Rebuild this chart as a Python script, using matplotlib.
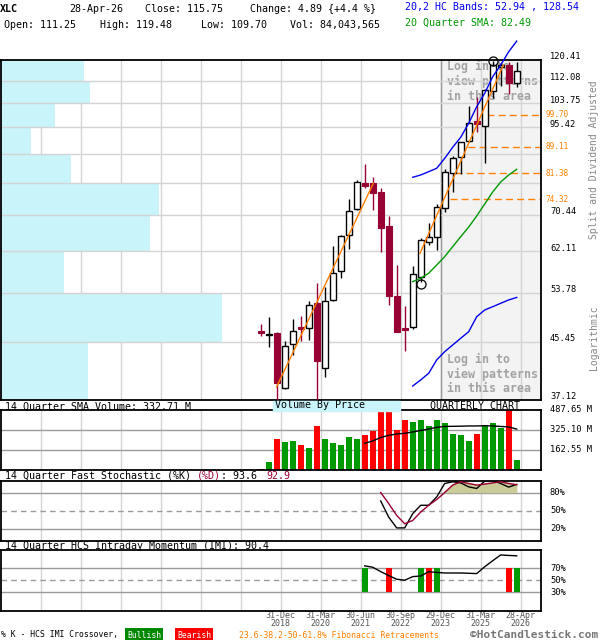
import numpy as np
import matplotlib
matplotlib.use('Agg')
import matplotlib.pyplot as plt
import matplotlib.transforms as mtransforms
from matplotlib.patches import Rectangle
from matplotlib.ticker import NullLocator

plt.rcParams['font.family'] = ['DejaVu Sans Mono', 'DejaVu Sans']

# ---------------- data ----------------
quarters = ['Q2-18', 'Q3-18', 'Q4-18', 'Q1-19', 'Q2-19', 'Q3-19', 'Q4-19',
            'Q1-20', 'Q2-20', 'Q3-20', 'Q4-20', 'Q1-21', 'Q2-21', 'Q3-21',
            'Q4-21', 'Q1-22', 'Q2-22', 'Q3-22', 'Q4-22', 'Q1-23', 'Q2-23',
            'Q3-23', 'Q4-23', 'Q1-24', 'Q2-24', 'Q3-24', 'Q4-24', 'Q1-25',
            'Q2-25', 'Q3-25', 'Q4-25', 'Q1-26', 'Q2-26']
open_q = [47.14, 46.49, 46.77, 38.65, 45.06, 47.75, 47.59, 51.93, 41.43, 52.48,
          57.96, 65.64, 71.83, 78.75, 78.58, 76.33, 67.85, 53.19, 47.69, 47.84,
          56.88, 64.20, 65.19, 72.07, 81.36, 85.98, 90.98, 97.59, 95.92, 108.04,
          117.65, 118.35, 111.25]
high_q = [48.29, 49.52, 46.90, 45.58, 49.08, 49.71, 52.35, 55.59, 54.95, 63.25,
          65.71, 74.42, 79.48, 84.01, 80.40, 77.23, 70.26, 59.23, 51.39, 59.02,
          64.96, 68.56, 73.15, 82.49, 86.37, 90.80, 102.69, 106.04, 108.80, 120.10,
          119.30, 119.70, 119.48]
low_q = [46.37, 44.65, 36.90, 38.60, 43.33, 45.58, 45.73, 36.90, 40.16, 52.30,
         56.69, 62.60, 71.70, 77.23, 71.65, 62.02, 51.58, 46.90, 44.02, 47.42,
         55.91, 63.47, 62.38, 71.24, 76.33, 81.16, 90.80, 93.95, 84.22, 105.47,
         110.04, 107.05, 109.70]
close_q = [46.81, 46.65, 39.33, 44.74, 47.09, 47.45, 51.53, 42.53, 52.23, 57.56,
           65.48, 71.33, 78.86, 77.86, 75.90, 67.25, 53.19, 47.02, 47.25, 57.36,
           64.58, 65.19, 72.32, 81.64, 85.68, 90.57, 96.73, 96.48, 108.54, 118.47,
           118.20, 111.08, 115.75]
volume_m = [10, 65, 254, 228, 236, 203, 181, 358, 254, 222, 203, 268, 254, 287,
            320, 474, 474, 328, 409, 393, 409, 360, 409, 382, 293, 285, 238, 293,
            366, 382, 344, 488, 84.04]

# indicators (start at quarter index given)
band_start = 19
band_upper = [80.23, 80.88, 81.81, 82.77, 85.68, 89.02, 92.15, 96.73, 102.45,
              107.31, 113.65, 118.35, 123.91, 128.54]
band_lower = [38.96, 39.79, 40.72, 42.64, 43.88, 44.91, 45.96, 47.02, 49.52,
              50.69, 51.27, 51.88, 52.48, 52.94]
sma20 = [55.91, 56.57, 57.56, 59.23, 60.97, 63.11, 65.32, 67.55, 70.18, 73.15,
         76.26, 78.95, 80.88, 82.49]
vol_sma_start = 13
vol_sma14 = [217, 236, 264, 282, 293, 298, 309, 321, 333, 347, 354, 355, 356,
             358, 358, 360, 358, 354, 350, 332.71]
stoch_start = 15
stoch_k = [65.9, 39.0, 21.0, 21.0, 44.7, 58.7, 58.7, 72.6, 95.0, 97.8, 96.0,
           89.4, 86.7, 99.0, 100.0, 95.0, 89.0, 93.6]
stoch_d = [80.0, 61.5, 41.8, 27.9, 33.4, 47.4, 58.7, 68.2, 80.0, 92.3, 97.8,
           95.0, 92.3, 94.0, 96.0, 97.8, 95.0, 92.9]
imi_start = 13
imi = [73.8, 71.5, 64.3, 57.7, 51.7, 50.0, 56.0, 57.0, 64.0, 63.0, 62.0, 62.0,
       62.0, 61.5, 61.0, 72.3, 82.3, 91.8, 91.0, 90.4]
imi_signal_idx = [13, 16, 20, 21, 22, 31, 32]
imi_signal = ['Bullish', 'Bearish', 'Bullish', 'Bearish', 'Bullish', 'Bearish', 'Bullish']

price_ticks = [37.12, 45.45, 53.78, 62.11, 70.44, 78.76, 87.09, 95.42, 103.75, 112.08, 120.41]
price_tick_labels = ['37.12', '45.45', '53.78', '62.11', '70.44', '', '', '95.42',
                     '103.75', '112.08', '120.41']
vbp_volume = [87, 221, 63, 149, 158, 70, 30, 54, 89, 83]   # bands bottom -> top

fib_levels = [99.70, 89.11, 81.38, 74.32]
fib_start = [28.3, 25.9, 24.3, 23.7]
trend1_k = [2.0, 14.08]
trend1_p = [38.87, 78.58]
trend2_k = [19.91, 30.33]
trend2_p = [61.67, 118.35]
pattern_k = [20, 29]
pattern_p = [55.5, 120.0]

xtick_pos = [2.5, 7.5, 12.5, 17.5, 22.5, 27.5, 32.5]
xtick_labels = ['31-Dec\n2018', '31-Mar\n2020', '30-Jun\n2021', '30-Sep\n2022',
                '29-Dec\n2023', '31-Mar\n2025', '28-Apr\n2026']
vol_ticks = [162.55, 325.10, 487.65]

# ---------------- styles ----------------
W, H = 600, 640
CRIM = '#990033'
GRN = '#009900'
RED = '#ff0000'
ORG = '#ff8000'
GRID = '#d4d4d4'
DGRID = '#9a9a9a'
CYAN = '#c8f4fa'
FS = 7.2
FSR = 6.3

fig = plt.figure(figsize=(W / 100, H / 100), dpi=100)


def axes_px(l, t, r, b):
    return fig.add_axes([l / W, 1 - b / H, (r - l) / W, (b - t) / H])


def ftext(x, y, s, **kw):
    kw.setdefault('va', 'center')
    kw.setdefault('fontsize', FS)
    return fig.text(x / W, 1 - y / H, s, **kw)


XL = (0.5 - 260.7) / 8.0
XR = (541 - 260.7) / 8.0
ax = axes_px(0.5, 60, 541, 400)
axv = axes_px(0.5, 410, 541, 470)
axs = axes_px(0.5, 480.5, 541, 540.5)
axi = axes_px(0.5, 550, 541, 610.5)

for a in (ax, axv, axs, axi):
    a.set_xlim(XL, XR)
    for sp in a.spines.values():
        sp.set_color('black')
        sp.set_linewidth(1.3)
    a.tick_params(which='both', length=0, labelleft=False, labelbottom=False)
    a.set_xticks([])
    for g in np.arange(-27.5, 33, 5.0):
        a.axvline(g, color=GRID, lw=1, zorder=0.5)

kk = np.arange(len(close_q))
o = np.array(open_q); c = np.array(close_q)
h = np.array(high_q); l = np.array(low_q)
up = c >= o

# ---------------- main price panel ----------------
ax.set_yscale('log')
ax.set_ylim(price_ticks[0], price_ticks[-1])
ax.yaxis.set_major_locator(NullLocator())
ax.yaxis.set_minor_locator(NullLocator())

for t in price_ticks[1:-1]:
    ax.axhline(t, color=GRID, lw=1, zorder=1.5)

# shaded pattern area
ax.axvspan(22.5, XR, color='#f3f3f3', zorder=0.3)
ax.axvline(22.5, color='#999999', lw=1, zorder=0.6)

# volume by price
span = XR - XL
vmax = max(vbp_volume)
bottoms = price_ticks[:-1]
heights = [price_ticks[i + 1] - price_ticks[i] for i in range(len(bottoms))]
widths = [v / vmax * 0.409 * span for v in vbp_volume]
ax.barh(bottoms, widths, height=heights, left=XL, align='edge', color=CYAN,
        zorder=1, linewidth=0)

# log-in texts
for i, s in enumerate(['Log in to', 'view patterns', 'in this area']):
    ax.text(447 / W, 1 - (66.7 + 15 * i) / H, s, transform=fig.transFigure,
            fontsize=8.4, fontweight='bold', color='#a3a3a3', va='center', zorder=1.2)
    ax.text(447 / W, 1 - (359 + 15 * i) / H, s, transform=fig.transFigure,
            fontsize=8.4, fontweight='bold', color='#a3a3a3', va='center', zorder=1.2)

# fib levels
for lev, st in zip(fib_levels, fib_start):
    ax.plot([st, XR], [lev, lev], color=ORG, lw=1, ls=(0, (5, 3)), zorder=2)

# candles
for i in kk:
    ax.vlines(i, l[i], h[i], color='black' if up[i] else CRIM, lw=1, zorder=3)
blo = np.minimum(o, c); bhi = np.maximum(o, c)
bh = np.maximum(bhi - blo, blo * 0.003)
ax.bar(kk[up], bh[up], bottom=blo[up], width=0.72, facecolor='white',
       edgecolor='black', lw=1, zorder=4)
ax.bar(kk[~up], bh[~up], bottom=blo[~up], width=0.72, facecolor=CRIM,
       edgecolor=CRIM, lw=0.8, zorder=4)

# trend lines
ax.plot(trend1_k, trend1_p, color=ORG, lw=1, zorder=5)
ax.plot(trend2_k, trend2_p, color=ORG, lw=1, zorder=5)

# bands and sma
bk = np.arange(band_start, band_start + len(band_upper))
ax.plot(bk, band_upper, color='#0000ee', lw=1, zorder=5, clip_on=False)
ax.plot(bk, band_lower, color='#0000ee', lw=1, zorder=5)
ax.plot(bk, sma20, color=GRN, lw=1, zorder=5)

ax.plot(pattern_k, pattern_p, 'o', mfc='none', mec='black', ms=6.5, mew=0.9,
        zorder=6, clip_on=False)

# right labels
tr = mtransforms.blended_transform_factory(ax.transAxes, ax.transData)
tr_lab = mtransforms.offset_copy(tr, fig=fig, x=9, y=3, units='dots')
for t, s in zip(price_ticks, price_tick_labels):
    if s:
        ax.text(1, t, s, transform=tr_lab, fontsize=FSR, va='center', ha='left', clip_on=False)
tr_fib = mtransforms.offset_copy(tr, fig=fig, x=4, y=0, units='dots')
for lev in fib_levels:
    ax.text(1, lev, f'{lev:.2f}', transform=tr_fib, fontsize=5.6, color=ORG,
            va='center', ha='left', clip_on=False)

ftext(594, 160, 'Split and Dividend Adjusted', rotation=90, ha='center', color='#888888', fontsize=7.0)
ftext(594, 338, 'Logarithmic', rotation=90, ha='center', color='#888888', fontsize=7.0)

# ---------------- volume panel ----------------
axv.set_ylim(0, vol_ticks[-1])
axv.set_yticks([])
for t in vol_ticks[:2]:
    axv.axhline(t, color=DGRID, lw=1, zorder=0.8)
axv.bar(kk, volume_m, width=0.72, color=[GRN if u else RED for u in up], zorder=2)
axv.plot(np.arange(vol_sma_start, vol_sma_start + len(vol_sma14)), vol_sma14,
         color='black', lw=1, zorder=3)
trv = mtransforms.offset_copy(mtransforms.blended_transform_factory(axv.transAxes, axv.transData),
                              fig=fig, x=9, y=0, units='dots')
for t in vol_ticks:
    axv.text(1, t, f'{t:.2f} M', transform=trv, fontsize=FSR, va='center', ha='left', clip_on=False)

# ---------------- stochastic panel ----------------
axs.set_ylim(0, 100)
axs.set_yticks([])
for t in (20, 80):
    axs.axhline(t, color=DGRID, lw=1, zorder=0.8)
axs.axhline(50, color=DGRID, lw=1, ls=(0, (4, 3)), zorder=0.8)
sk = np.arange(stoch_start, stoch_start + len(stoch_k))
sd = np.array(stoch_d)
axs.fill_between(sk, sd, 80, where=sd >= 80, interpolate=True, color='#cccc99', zorder=1)
axs.plot(sk, stoch_k, color='black', lw=1, zorder=3)
axs.plot(sk, stoch_d, color=CRIM, lw=1, zorder=3)
trs = mtransforms.offset_copy(mtransforms.blended_transform_factory(axs.transAxes, axs.transData),
                              fig=fig, x=9, y=0, units='dots')
for t in (80, 50, 20):
    axs.text(1, t, f'{t}%', transform=trs, fontsize=FSR, va='center', ha='left', clip_on=False)

# ---------------- IMI panel ----------------
axi.set_ylim(0, 100)
axi.set_yticks([])
for t in (30, 70):
    axi.axhline(t, color=DGRID, lw=1, zorder=0.8)
axi.axhline(50, color=DGRID, lw=1, ls=(0, (4, 3)), zorder=0.8)
axi.bar(imi_signal_idx, 40, bottom=30, width=0.72,
        color=[GRN if s == 'Bullish' else RED for s in imi_signal], zorder=2)
axi.plot(np.arange(imi_start, imi_start + len(imi)), imi, color='black', lw=1, zorder=3)
tri = mtransforms.offset_copy(mtransforms.blended_transform_factory(axi.transAxes, axi.transData),
                              fig=fig, x=9, y=0, units='dots')
for t in (70, 50, 30):
    axi.text(1, t, f'{t}%', transform=tri, fontsize=FSR, va='center', ha='left', clip_on=False)
axi.set_xticks(xtick_pos)
axi.set_xticklabels(xtick_labels, fontsize=6.0, color='#555555', linespacing=0.85)
axi.tick_params(axis='x', length=0, pad=0.5, labelbottom=True)

# ---------------- texts ----------------
ftext(0, 9, 'XLC', fontweight='bold')
ftext(69, 9, '28-Apr-26')
ftext(145, 9, 'Close: 115.75')
ftext(250, 9, 'Change: 4.89 {+4.4 %}')
ftext(405, 7, '20,2 HC Bands: 52.94 , 128.54', color='#0000ee')
ftext(4, 25, 'Open: 111.25')
ftext(100, 25, 'High: 119.48')
ftext(201, 25, 'Low: 109.70')
ftext(290, 25, 'Vol: 84,043,565')
ftext(405, 23, '20 Quarter SMA: 82.49', color=GRN)

fig.patches.append(Rectangle((273 / W, 1 - 411 / H), 127 / W, 10.5 / H,
                             transform=fig.transFigure, color=CYAN, zorder=0))
ftext(275, 405.5, 'Volume By Price')
ftext(430, 405.5, 'QUARTERLY CHART')

ftext(4.7, 406.5, '14 Quarter SMA Volume: 332.71 M')
ftext(4.7, 476, '14 Quarter Fast Stochastic (%K) ')
ftext(197.3, 476, '(%D)', color=CRIM)
ftext(221.4, 476, ': 93.6')
ftext(266.5, 476, '92.9', color=CRIM)
ftext(4.7, 546, '14 Quarter HCS Intraday Momentum (IMI): 90.4')

ftext(1, 635, '% K - HCS IMI Crossover,', fontsize=5.9)
ftext(127, 635, 'Bullish', fontsize=5.9, color='white',
      bbox=dict(facecolor='#008800', edgecolor='none', boxstyle='square,pad=0.25'))
ftext(177, 635, 'Bearish', fontsize=5.9, color='white',
      bbox=dict(facecolor=RED, edgecolor='none', boxstyle='square,pad=0.25'))
ftext(239, 635, '23.6-38.2-50-61.8% Fibonacci Retracements', fontsize=5.9, color=ORG)
ftext(598, 634.5, '\u00a9HotCandlestick.com', fontsize=8.0, fontweight='bold',
      color='#777777', ha='right')

fig.savefig('out.png', dpi=100)
